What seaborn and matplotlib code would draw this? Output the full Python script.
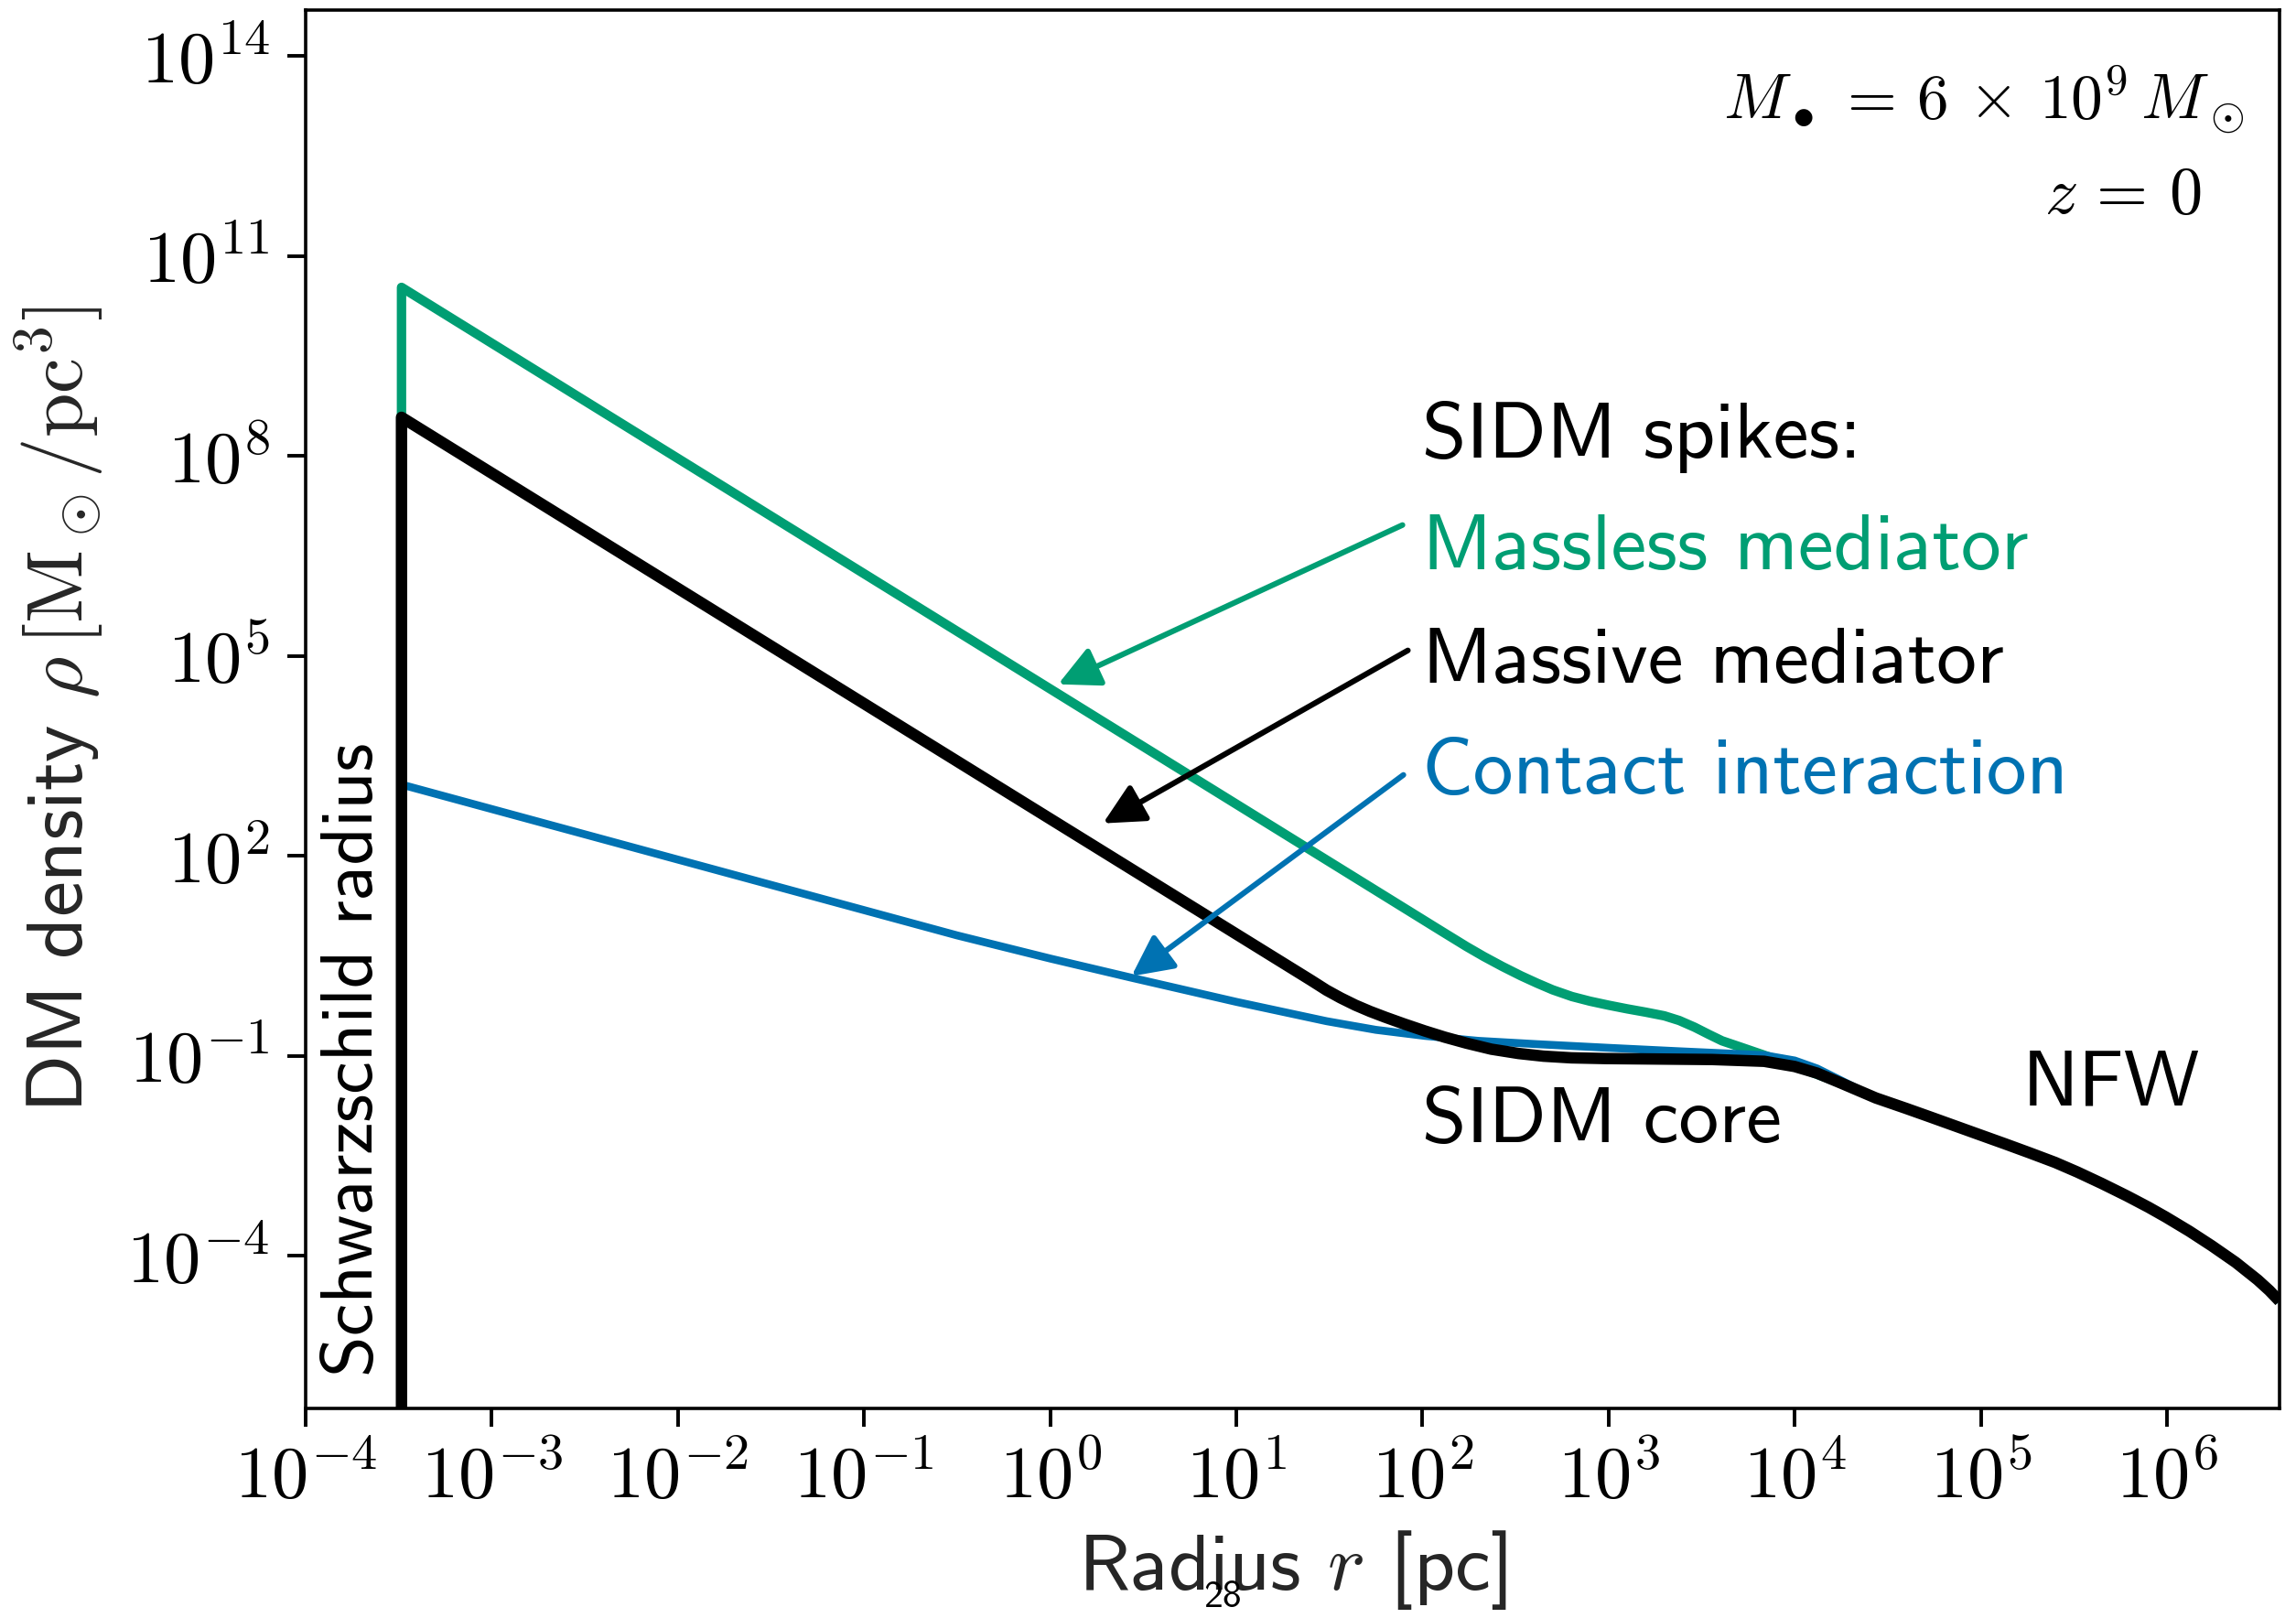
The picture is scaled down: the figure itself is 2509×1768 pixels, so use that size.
import numpy as np
import matplotlib
matplotlib.use("Agg")
import matplotlib.pyplot as plt
import seaborn as sns
from matplotlib.ticker import FixedLocator, FuncFormatter, NullLocator

# ---------------- data (log10 values) ----------------
# radius r [pc] (log10) and density rho [Msun/pc^3] (log10)
nfw_log_r = [4.436, 4.600, 4.736, 5.000, 5.130, 5.262, 5.400, 5.520, 5.650, 5.784,
             5.900, 5.995, 6.120, 6.241, 6.370, 6.487, 6.550, 6.605]
nfw_log_rho = [-1.632, -1.790, -1.925, -2.190, -2.320, -2.455, -2.600, -2.745, -2.915, -3.100,
               -3.270, -3.420, -3.630, -3.850, -4.100, -4.360, -4.520, -4.680]

massless_log_r = [-3.485, -3.485, 2.100, 2.237, 2.330, 2.430, 2.530, 2.616, 2.700, 2.803,
                  2.900, 3.000, 3.100, 3.200, 3.300, 3.380, 3.462, 3.540, 3.610, 3.700,
                  3.836, 3.988, 4.214] + nfw_log_r
massless_log_rho = [-8.0, 10.53, 0.875, 0.640, 0.490, 0.340, 0.200, 0.090, -0.010, -0.110,
                    -0.180, -0.240, -0.295, -0.345, -0.400, -0.470, -0.570, -0.680, -0.775, -0.860,
                    -0.990, -1.140, -1.375] + nfw_log_rho

contact_log_r = [-3.485, -3.485, -0.500, 0.000, 0.440, 1.000, 1.485, 1.750, 2.011,
                 2.300, 2.616, 3.000, 3.368, 3.836, 4.000, 4.121, 4.250] + nfw_log_r
contact_log_rho = [-8.0, 3.07, 0.807, 0.460, 0.170, -0.190, -0.480, -0.610, -0.700,
                   -0.775, -0.825, -0.880, -0.930, -0.990, -1.070, -1.190, -1.370] + nfw_log_rho

massive_log_r = [-3.485, -3.485, 1.400, 1.485, 1.560, 1.640, 1.720, 1.800, 1.900, 2.011,
                 2.120, 2.237, 2.370, 2.517, 2.650, 2.800, 2.990, 3.555, 3.836, 4.000,
                 4.121, 4.250] + nfw_log_r
massive_log_rho = [-8.0, 8.58, 0.136, -0.015, -0.130, -0.240, -0.335, -0.420, -0.520, -0.625,
                   -0.720, -0.810, -0.900, -0.965, -1.005, -1.030, -1.041, -1.055, -1.082, -1.160,
                   -1.260, -1.410] + nfw_log_rho

x_ticks_exp = [-4, -3, -2, -1, 0, 1, 2, 3, 4, 5, 6]
y_ticks_exp = [-4, -1, 2, 5, 8, 11, 14]

GREEN = "#009E73"
BLUE = "#0072B2"
BLACK = "#000000"

# ---------------- style ----------------
sns.set_theme(style="ticks")
plt.rcParams.update({
    "font.family": ["cmss10", "DejaVu Sans"],
    "mathtext.fontset": "cm",
    "axes.unicode_minus": False,
    "axes.formatter.use_mathtext": True,
    "axes.edgecolor": "black",
    "axes.linewidth": 1.3,
    "xtick.color": "black",
    "ytick.color": "black",
    "xtick.major.width": 1.4,
    "ytick.major.width": 1.4,
    "xtick.major.size": 7.2,
    "ytick.major.size": 7.2,
    "xtick.direction": "out",
    "ytick.direction": "out",
})

DPI = 200
fig = plt.figure(figsize=(2509 / DPI, 1768 / DPI), dpi=DPI)
ax = fig.add_axes([334 / 2509, 229 / 1768, 2157 / 2509, 1528 / 1768])
ax.set_xscale("log")
ax.set_yscale("log")

def to_lin(v):
    return 10.0 ** np.asarray(v, dtype=float)

curves = [
    (massless_log_r, massless_log_rho, GREEN, 3.7),
    (contact_log_r, contact_log_rho, BLUE, 3.1),
    (massive_log_r, massive_log_rho, BLACK, 4.5),
]
for lr, lrho, col, lw in curves:
    n_before = len(ax.lines)
    sns.lineplot(x=to_lin(lr), y=to_lin(lrho), sort=False, estimator=None,
                 color=col, linewidth=lw, ax=ax)
    for ln in ax.lines[n_before:]:
        ln.set_linewidth(lw)
        ln.set_solid_joinstyle("round")
        ln.set_solid_capstyle("butt")

ax.set_xlim(1e-4, 10 ** 6.605)
ax.set_ylim(10 ** -6.29, 10 ** 14.69)

ax.xaxis.set_major_locator(FixedLocator(to_lin(x_ticks_exp)))
ax.yaxis.set_major_locator(FixedLocator(to_lin(y_ticks_exp)))
ax.xaxis.set_minor_locator(NullLocator())
ax.yaxis.set_minor_locator(NullLocator())
fmt = FuncFormatter(lambda v, p: r"$10^{%d}$" % int(round(np.log10(v))))
ax.xaxis.set_major_formatter(fmt)
ax.yaxis.set_major_formatter(fmt)
ax.tick_params(axis="both", which="major", labelsize=29, pad=7)
for s in ax.spines.values():
    s.set_visible(True)
    s.set_color("black")
    s.set_linewidth(1.3)

TXT = 31.5
ax.set_xlabel(r"Radius $r$ [pc]", fontsize=TXT, labelpad=6)
ax.set_ylabel(r"DM density $\rho\,[\mathrm{M}_\odot/\mathrm{pc}^3]$", fontsize=TXT, labelpad=8)

# ---------------- annotations ----------------
ax.text(100, 10 ** 7.98, "SIDM spikes:", fontsize=TXT, color=BLACK)
ax.text(100, 10 ** 6.30, "Massless mediator", fontsize=TXT, color=GREEN)
ax.text(100, 10 ** 4.60, "Massive mediator", fontsize=TXT, color=BLACK)
ax.text(100, 10 ** 2.93, "Contact interaction", fontsize=TXT, color=BLUE)
ax.text(100, 10 ** -2.30, "SIDM core", fontsize=TXT, color=BLACK)
ax.text(10 ** 5.22, 10 ** -1.74, "NFW", fontsize=TXT, color=BLACK)

ax.text(0.034, 0.023, "Schwarzschild radius", transform=ax.transAxes, rotation=90,
        rotation_mode="anchor", ha="left", va="baseline", fontsize=29, color=BLACK)

ax.text(0.982, 0.922, r"$M_\bullet \,=\, 6 \,\times\, 10^9\, M_\odot$", transform=ax.transAxes,
        ha="right", va="baseline", fontsize=25, color=BLACK)
ax.text(0.9605, 0.855, r"$z \,=\, 0$", transform=ax.transAxes,
        ha="right", va="baseline", fontsize=26, color=BLACK)

arrow_kw = dict(arrowstyle="-|>", lw=2.2, mutation_scale=34, shrinkA=0, shrinkB=0)
ax.annotate("", xy=(10 ** 0.043, 10 ** 4.575), xytext=(10 ** 1.893, 10 ** 6.964),
            arrowprops=dict(color=GREEN, **arrow_kw))
ax.annotate("", xy=(10 ** 0.284, 10 ** 2.488), xytext=(10 ** 1.922, 10 ** 5.083),
            arrowprops=dict(color=BLACK, **arrow_kw))
ax.annotate("", xy=(10 ** 0.437, 10 ** 0.195), xytext=(10 ** 1.898, 10 ** 3.215),
            arrowprops=dict(color=BLUE, **arrow_kw))

fig.text(1336 / 2509, 4 / 1768, "28", ha="center", va="bottom", fontsize=15, color=BLACK)

fig.savefig("out.png", dpi=DPI)
